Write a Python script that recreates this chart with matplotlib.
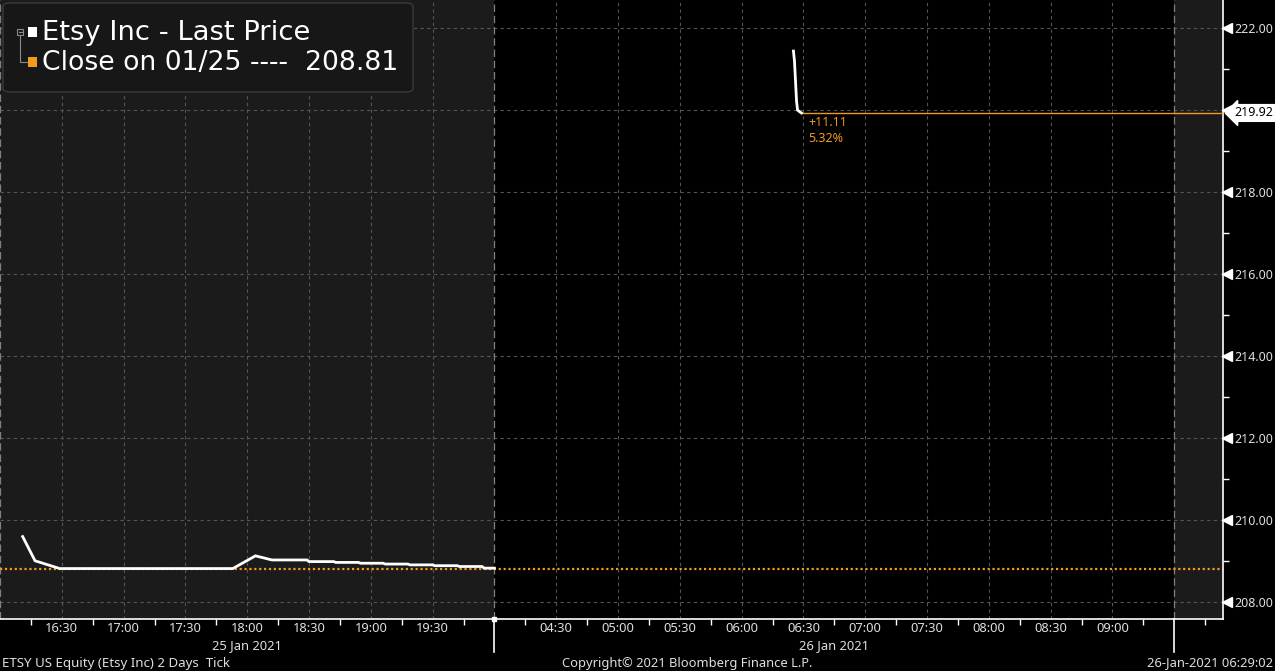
import matplotlib.pyplot as plt
import matplotlib.transforms as mtransforms
from matplotlib.patches import FancyBboxPatch, Rectangle
from matplotlib.lines import Line2D

plt.rcParams['font.family'] = ['Noto Sans', 'DejaVu Sans']

# price ticks
jan25_times = ["16:11", "16:17", "16:29", "17:53", "18:04", "18:12", "18:29", "18:30",
               "18:42", "18:43", "18:54", "18:55", "19:06", "19:07", "19:18", "19:19",
               "19:30", "19:31", "19:42", "19:43", "19:54", "19:55", "20:00"]
jan25_price = [209.59, 209.00, 208.81, 208.81, 209.12, 209.02, 209.02, 208.98,
               208.98, 208.96, 208.96, 208.94, 208.94, 208.92, 208.92, 208.90,
               208.90, 208.88, 208.88, 208.86, 208.86, 208.82, 208.82]
jan26_times = ["06:25:10", "06:25:40", "06:26:10", "06:26:40", "06:27:10", "06:28:10", "06:29:02"]
jan26_price = [221.43, 221.19, 220.70, 220.21, 219.99, 219.95, 219.92]

prev_close = 208.81
last_price = 219.92
change_txt = "+11.11"
change_pct = "5.32%"

labels_25 = ["16:30", "17:00", "17:30", "18:00", "18:30", "19:00", "19:30"]
labels_26 = ["04:30", "05:00", "05:30", "06:00", "06:30", "07:00", "07:30",
             "08:00", "08:30", "09:00"]
minor_25 = ["16:15", "16:45", "17:15", "17:45", "18:15", "18:45", "19:15", "19:45"]
minor_26 = ["04:15", "04:45", "05:15", "05:45", "06:15", "06:45", "07:15",
            "07:45", "08:15", "08:45", "09:15", "09:45"]
yticks = [208, 210, 212, 214, 216, 218, 220, 222]
yminor = [209, 211, 213, 215, 217, 219, 221]

ORANGE = '#f39a1e'
GRID = '#555555'
SHADE = '#1b1b1b'
TXT = '#dedede'
FS = 9.3


def to_min(day, t):
    # broken time axis: Jan 25 16:00-20:00 then Jan 26 from 04:00
    p = [int(v) for v in t.split(":")]
    m = p[0] * 60 + p[1] + (p[2] / 60 if len(p) > 2 else 0)
    if day == 25:
        return m - 16 * 60
    return 240 + m - 4 * 60


W, H = 1275, 671
fig = plt.figure(figsize=(W / 100, H / 100), dpi=100, facecolor='black')
ax = fig.add_axes([0, 52 / H, 1223 / W, 619 / H])
ax.set_facecolor('black')
xmax = 1223 / 2.06
ax.set_xlim(0, xmax)
ax.set_ylim(207.58, 222.675)

# session shading
ax.axvspan(0, to_min(25, "20:00"), color=SHADE, zorder=0, lw=0)
ax.axvspan(to_min(26, "09:30"), xmax, color=SHADE, zorder=0, lw=0)

# ticks
maj = [to_min(25, t) for t in labels_25] + [to_min(26, t) for t in labels_26]
mnr = [to_min(25, t) for t in minor_25] + [to_min(26, t) for t in minor_26]
ax.set_xticks(maj)
ax.set_xticklabels(labels_25 + labels_26)
ax.set_xticks(mnr, minor=True)
ax.tick_params(axis='x', which='major', length=0, pad=2, labelsize=FS, labelcolor=TXT)
ax.tick_params(axis='x', which='minor', length=4, width=1, color='white', direction='out')

ax.yaxis.tick_right()
ax.set_yticks(yticks)
ax.set_yticklabels([f"{v:.2f}" for v in yticks])
ax.set_yticks(yminor, minor=True)
ax.tick_params(axis='y', which='major', length=0, pad=8.5, labelsize=9, labelcolor=TXT)
ax.tick_params(axis='y', which='minor', length=4, width=1, color='white', direction='out')

for s in ['top', 'left']:
    ax.spines[s].set_visible(False)
for s in ['right', 'bottom']:
    ax.spines[s].set_color('white')
    ax.spines[s].set_linewidth(1.2)

ax.grid(True, which='major', color=GRID, linestyle=(0, (3, 3)), linewidth=0.8)
ax.set_axisbelow(True)
for t in [to_min(25, "16:00"), to_min(25, "20:00"), to_min(26, "09:30")]:
    ax.axvline(t, color='#808080', linestyle=(0, (6, 3)), linewidth=0.9, zorder=1)

trans_x = mtransforms.blended_transform_factory(ax.transData, ax.transAxes)
trans_y = mtransforms.blended_transform_factory(ax.transAxes, ax.transData)

# session separators below the axis
for t in [to_min(25, "20:00"), to_min(26, "09:30")]:
    ax.plot([t, t], [0, -0.054], transform=trans_x, color='white', lw=1.2, clip_on=False)
ax.plot([to_min(25, "20:00")], [0], transform=trans_x, marker='s', ms=3, color='white',
        clip_on=False)

# triangles at y labels
ax.plot([1 + 4.5 / 1223] * len(yticks), yticks, transform=trans_y, ls='none', marker='<',
        ms=6.5, color='white', clip_on=False)

# date labels
ax.text(to_min(25, "18:00"), -0.043, "25 Jan 2021", transform=trans_x, ha='center',
        va='center', color=TXT, fontsize=FS)
ax.text(to_min(26, "06:45"), -0.043, "26 Jan 2021", transform=trans_x, ha='center',
        va='center', color=TXT, fontsize=FS)

# previous close and price lines
ax.axhline(prev_close, color=ORANGE, linestyle=(0, (1, 1.2)), linewidth=1.6, zorder=2)
x25 = [to_min(25, t) for t in jan25_times]
x26 = [to_min(26, t) for t in jan26_times]
ax.plot(x25, jan25_price, color='white', lw=2, zorder=4, solid_joinstyle='miter')
ax.plot(x26, jan26_price, color='white', lw=2, zorder=4, solid_joinstyle='miter')
ax.hlines(last_price, x26[-1], xmax, color=ORANGE, lw=1, zorder=3)

ax.annotate(change_txt, xy=(x26[-1], last_price), xytext=(5, -7), textcoords='offset points',
            color=ORANGE, fontsize=9, va='center', ha='left')
ax.annotate(change_pct, xy=(x26[-1], last_price), xytext=(5, -18.5), textcoords='offset points',
            color=ORANGE, fontsize=9, va='center', ha='left')

# last price box
ax.text(1 + 11 / 1223, last_price, f"{last_price:.2f}", transform=trans_y, ha='left',
        va='center', color='black', fontsize=9, clip_on=False,
        bbox=dict(boxstyle='larrow,pad=0.15', fc='white', ec='white'))

# legend box
def ax_px(x, y):
    return x / 1223, 1 - y / 619

x0, y0 = ax_px(3, 92)
ax.add_patch(FancyBboxPatch((x0, y0), 410 / 1223, 89 / 619, transform=ax.transAxes,
                            boxstyle='round,pad=0,rounding_size=0.006', fc='#171717',
                            ec='#3a3a3a', lw=1, zorder=6))
sx, sy = ax_px(28, 37)
ax.add_patch(Rectangle((sx, sy), 9 / 1223, 10 / 619, transform=ax.transAxes,
                       fc='white', ec='none', zorder=7))
sx, sy = ax_px(28, 67)
ax.add_patch(Rectangle((sx, sy), 9 / 1223, 10 / 619, transform=ax.transAxes,
                       fc=ORANGE, ec='none', zorder=7))
bx, by = ax_px(17, 35)
ax.add_patch(Rectangle((bx, by), 6 / 1223, 6 / 619, transform=ax.transAxes,
                       fc='none', ec='#8a8a8a', lw=0.8, zorder=7))
ax.add_line(Line2D([18.5 / 1223, 21.5 / 1223], [1 - 32 / 619] * 2, transform=ax.transAxes,
                   color='#8a8a8a', lw=0.8, zorder=7))
ax.add_line(Line2D([20 / 1223, 20 / 1223, 27 / 1223],
                   [1 - 35 / 619, 1 - 62 / 619, 1 - 62 / 619], transform=ax.transAxes,
                   color='#8a8a8a', lw=0.8, zorder=7))
tx, ty = ax_px(42, 33)
ax.text(tx, ty, "Etsy Inc - Last Price", transform=ax.transAxes, color='white',
        fontsize=19.7, va='center', ha='left', zorder=8, family='DejaVu Sans')
tx, ty = ax_px(42, 63)
ax.text(tx, ty, "Close on 01/25 ----  208.81", transform=ax.transAxes, color='white',
        fontsize=19.2, va='center', ha='left', zorder=8, family='DejaVu Sans')

# footer
fig.text(2 / W, 1 - 663 / H, "ETSY US Equity (Etsy Inc) 2 Days  Tick", color=TXT,
         fontsize=9.6, ha='left', va='center')
fig.text(687 / W, 1 - 663 / H, "Copyright\u00a9 2021 Bloomberg Finance L.P.", color=TXT,
         fontsize=FS, ha='center', va='center')
fig.text(1273 / W, 1 - 663 / H, "26-Jan-2021 06:29:02", color=TXT,
         fontsize=FS, ha='right', va='center')

fig.savefig("out.png", dpi=100, facecolor='black')
